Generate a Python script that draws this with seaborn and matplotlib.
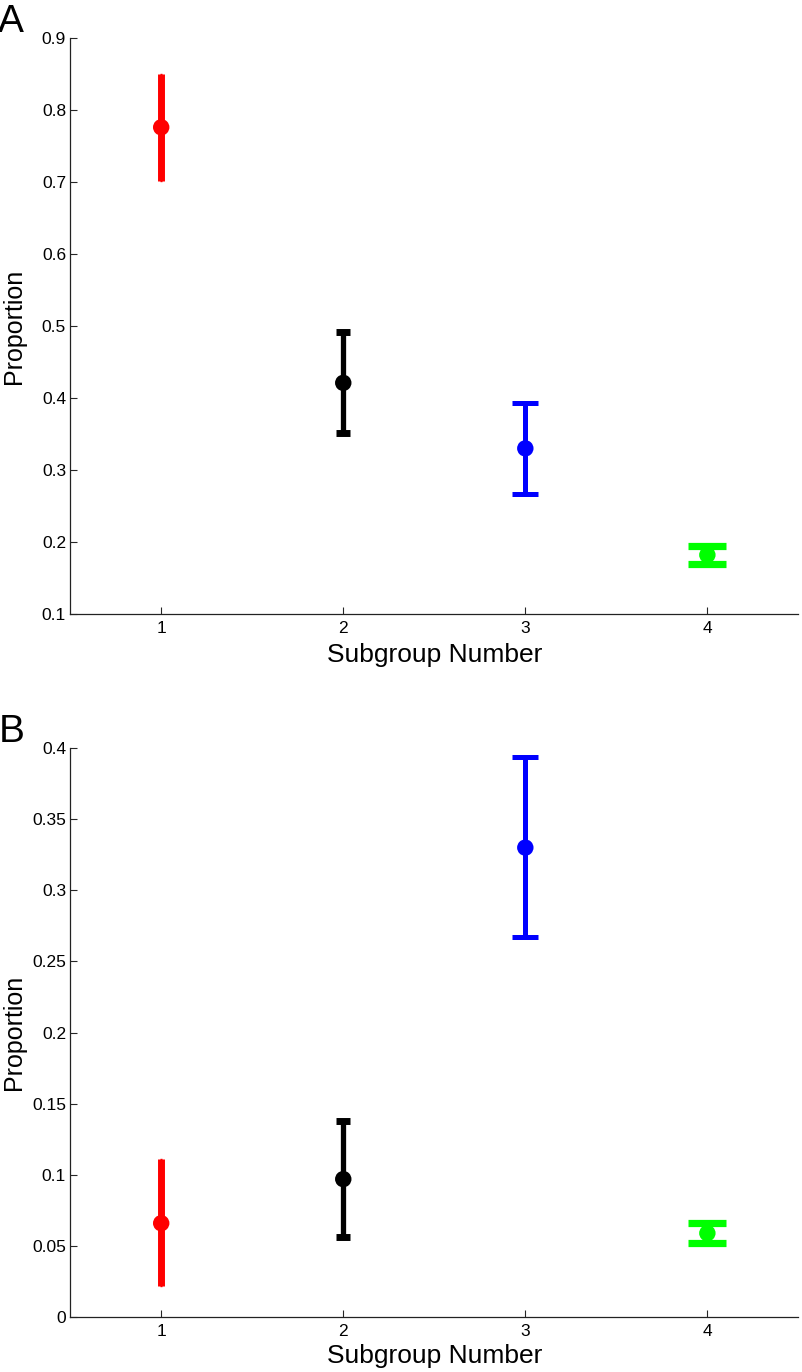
import matplotlib
matplotlib.use("Agg")
import matplotlib.pyplot as plt
import seaborn as sns
import pandas as pd

# Data
subgroups = [1, 2, 3, 4]
colors = ["#ff0000", "#000000", "#0000ff", "#00ff00"]

a_mean = [0.776, 0.421, 0.330, 0.182]
a_low = [0.702, 0.352, 0.267, 0.170]
a_high = [0.850, 0.491, 0.393, 0.195]

b_mean = [0.066, 0.097, 0.330, 0.059]
b_low = [0.022, 0.056, 0.267, 0.052]
b_high = [0.111, 0.138, 0.394, 0.066]

# per-subgroup errorbar look (matlab-ish, each one a bit different)
line_w = [5.0, 3.8, 3.6, 3.0]
cap_sz = [1.0, 4.8, 9.5, 13.5]
cap_th = [1.0, 5.0, 3.6, 5.2]

sns.set_style("white")
plt.rcParams["font.family"] = ["Liberation Sans", "DejaVu Sans"]
plt.rcParams["text.color"] = "black"

fig = plt.figure(figsize=(8.02, 13.72), dpi=100)
ax_a = fig.add_axes([0.0875, 0.5525, 0.908, 0.4198])
ax_b = fig.add_axes([0.0875, 0.0400, 0.908, 0.4148])


def draw_panel(ax, mean, low, high, ylim, yticks, yfmt, xlab_y):
    df = pd.DataFrame({"Subgroup": subgroups, "Proportion": mean,
                       "low": low, "high": high})
    for i, row in df.iterrows():
        ax.errorbar(row["Subgroup"], row["Proportion"],
                    yerr=[[row["Proportion"] - row["low"]], [row["high"] - row["Proportion"]]],
                    fmt="none", ecolor=colors[i], elinewidth=line_w[i],
                    capsize=cap_sz[i], capthick=cap_th[i], zorder=2)
    sns.scatterplot(data=df, x="Subgroup", y="Proportion", hue="Subgroup",
                    palette=colors, s=140, edgecolor="none", legend=False,
                    ax=ax, zorder=3)
    ax.set_xlim(0.5, 4.5)
    ax.set_ylim(*ylim)
    ax.set_xticks(subgroups)
    ax.set_xticklabels([str(s) for s in subgroups])
    ax.set_yticks(yticks)
    ax.set_yticklabels([yfmt(v) for v in yticks])
    ax.set_xlabel("Subgroup Number", fontsize=19, color="black")
    ax.set_ylabel("Proportion", fontsize=18, color="black")
    ax.xaxis.set_label_coords(0.5, xlab_y)
    ax.yaxis.set_label_coords(-0.060, 0.5)
    ax.tick_params(direction="in", length=5, width=0.8, labelsize=12.5,
                   left=True, bottom=True, labelcolor="black")
    ax.tick_params(axis="y", pad=3)
    ax.tick_params(axis="x", pad=5)
    sns.despine(ax=ax)
    for s in ["left", "bottom"]:
        ax.spines[s].set_linewidth(0.9)
        ax.spines[s].set_color("#222222")


draw_panel(ax_a, a_mean, a_low, a_high, (0.1, 0.9),
           [0.1, 0.2, 0.3, 0.4, 0.5, 0.6, 0.7, 0.8, 0.9], lambda v: f"{v:.1f}", -0.050)
draw_panel(ax_b, b_mean, b_low, b_high, (0.0, 0.4),
           [0, 0.05, 0.1, 0.15, 0.2, 0.25, 0.3, 0.35, 0.4],
           lambda v: "0" if v == 0 else f"{v:g}", -0.047)

fig.text(-0.002, 0.9767, "A", fontsize=28, va="baseline", ha="left", color="black")
fig.text(-0.002, 0.4592, "B", fontsize=28, va="baseline", ha="left", color="black")

fig.savefig("out.png", dpi=100)
